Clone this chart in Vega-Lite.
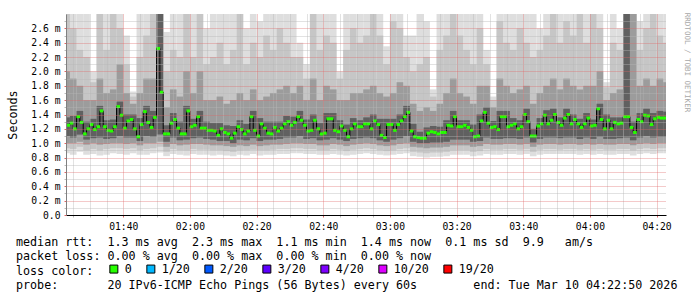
{
"$schema": "https://vega.github.io/schema/vega-lite/v6.json",
"autosize": {"type": "none"},
"width": 600,
"height": 201,
"padding": {"left": 66, "top": 14, "right": 31, "bottom": 82},
"background": "white",
"config": {"view": {"stroke": null}, "font": "DejaVu Sans Mono"},
"title": {
 "text": [
  "median\u00a0rtt:\u00a0\u00a01.3\u00a0ms\u00a0avg\u00a0\u00a02.3\u00a0ms\u00a0max\u00a0\u00a01.1\u00a0ms\u00a0min\u00a0\u00a01.4\u00a0ms\u00a0now\u00a0\u00a00.1\u00a0ms\u00a0sd\u00a0\u00a09.9\u00a0\u00a0\u00a0am/s",
  "packet\u00a0loss:\u00a00.00\u00a0%\u00a0avg\u00a0\u00a00.00\u00a0%\u00a0max\u00a0\u00a00.00\u00a0%\u00a0min\u00a0\u00a00.00\u00a0%\u00a0now",
  "loss\u00a0color:",
  "probe:\u00a0\u00a0\u00a0\u00a0\u00a0\u00a0\u00a020\u00a0IPv6-ICMP\u00a0Echo\u00a0Pings\u00a0(56\u00a0Bytes)\u00a0every\u00a060s\u00a0\u00a0\u00a0\u00a0\u00a0\u00a0\u00a0\u00a0end:\u00a0Tue\u00a0Mar\u00a010\u00a004:22:50\u00a02026"
 ],
 "orient": "bottom", "anchor": "start", "frame": "group", "dx": -50, "offset": -39,
 "font": "DejaVu Sans Mono", "fontSize": 11.7, "fontWeight": "normal", "color": "#000",
 "lineHeight": 14.3, "baseline": "top"
},
"datasets": {
 "smoke": [
  {"t":"2026-03-10T01:22","t2":"2026-03-10T01:24","lo0":0.86,"lo1":0.93,"lo2":1.0,"lo3":1.1,"hi3":1.36,"hi2":2.0,"hi1":3,"hi0":3},
  {"t":"2026-03-10T01:24","t2":"2026-03-10T01:26","lo0":0.84,"lo1":0.92,"lo2":1.0,"lo3":1.08,"hi3":1.38,"hi2":1.9,"hi1":2.6,"hi0":3},
  {"t":"2026-03-10T01:26","t2":"2026-03-10T01:28","lo0":0.88,"lo1":0.95,"lo2":1.02,"lo3":1.12,"hi3":1.45,"hi2":1.8,"hi1":2.3,"hi0":3},
  {"t":"2026-03-10T01:28","t2":"2026-03-10T01:30","lo0":0.84,"lo1":0.9,"lo2":0.98,"lo3":1.05,"hi3":1.3,"hi2":1.6,"hi1":2.2,"hi0":3},
  {"t":"2026-03-10T01:30","t2":"2026-03-10T01:32","lo0":0.85,"lo1":0.92,"lo2":1.0,"lo3":1.07,"hi3":1.34,"hi2":1.6,"hi1":1.85,"hi0":2.0},
  {"t":"2026-03-10T01:32","t2":"2026-03-10T01:34","lo0":0.83,"lo1":0.9,"lo2":0.98,"lo3":1.08,"hi3":1.52,"hi2":1.9,"hi1":2.8,"hi0":3},
  {"t":"2026-03-10T01:34","t2":"2026-03-10T01:36","lo0":0.84,"lo1":0.92,"lo2":0.99,"lo3":1.06,"hi3":1.32,"hi2":1.7,"hi1":2.3,"hi0":3},
  {"t":"2026-03-10T01:36","t2":"2026-03-10T01:38","lo0":0.86,"lo1":0.93,"lo2":1.0,"lo3":1.07,"hi3":1.33,"hi2":1.75,"hi1":2.9,"hi0":3},
  {"t":"2026-03-10T01:38","t2":"2026-03-10T01:40","lo0":0.85,"lo1":0.93,"lo2":1.0,"lo3":1.1,"hi3":1.58,"hi2":2.1,"hi1":2.6,"hi0":3},
  {"t":"2026-03-10T01:40","t2":"2026-03-10T01:42","lo0":0.84,"lo1":0.92,"lo2":0.99,"lo3":1.08,"hi3":1.4,"hi2":1.7,"hi1":2.1,"hi0":2.5},
  {"t":"2026-03-10T01:42","t2":"2026-03-10T01:44","lo0":0.86,"lo1":0.93,"lo2":1.0,"lo3":1.08,"hi3":1.4,"hi2":1.55,"hi1":1.65,"hi0":1.72},
  {"t":"2026-03-10T01:44","t2":"2026-03-10T01:46","lo0":0.84,"lo1":0.9,"lo2":0.97,"lo3":1.03,"hi3":1.35,"hi2":1.7,"hi1":2.2,"hi0":3},
  {"t":"2026-03-10T01:46","t2":"2026-03-10T01:48","lo0":0.84,"lo1":0.92,"lo2":1.0,"lo3":1.1,"hi3":1.52,"hi2":1.9,"hi1":2.5,"hi0":3},
  {"t":"2026-03-10T01:48","t2":"2026-03-10T01:50","lo0":0.86,"lo1":0.93,"lo2":1.0,"lo3":1.09,"hi3":1.45,"hi2":1.9,"hi1":3,"hi0":3},
  {"t":"2026-03-10T01:50","t2":"2026-03-10T01:52","lo0":0.87,"lo1":0.95,"lo2":1.02,"lo3":1.12,"hi3":3,"hi2":3,"hi1":3,"hi0":3},
  {"t":"2026-03-10T01:52","t2":"2026-03-10T01:54","lo0":0.82,"lo1":0.88,"lo2":0.95,"lo3":1.02,"hi3":1.25,"hi2":1.5,"hi1":2.0,"hi0":2.55},
  {"t":"2026-03-10T01:54","t2":"2026-03-10T01:56","lo0":0.85,"lo1":0.92,"lo2":0.99,"lo3":1.08,"hi3":1.42,"hi2":1.75,"hi1":2.3,"hi0":3},
  {"t":"2026-03-10T01:56","t2":"2026-03-10T01:58","lo0":0.84,"lo1":0.9,"lo2":0.97,"lo3":1.04,"hi3":1.3,"hi2":1.65,"hi1":2.2,"hi0":3},
  {"t":"2026-03-10T01:58","t2":"2026-03-10T02:00","lo0":0.83,"lo1":0.9,"lo2":0.98,"lo3":1.05,"hi3":1.52,"hi2":2.0,"hi1":2.9,"hi0":3},
  {"t":"2026-03-10T02:00","t2":"2026-03-10T02:02","lo0":0.85,"lo1":0.92,"lo2":0.99,"lo3":1.07,"hi3":1.34,"hi2":1.7,"hi1":2.2,"hi0":3},
  {"t":"2026-03-10T02:02","t2":"2026-03-10T02:04","lo0":0.84,"lo1":0.91,"lo2":0.99,"lo3":1.08,"hi3":1.45,"hi2":2.0,"hi1":3,"hi0":3},
  {"t":"2026-03-10T02:04","t2":"2026-03-10T02:06","lo0":0.84,"lo1":0.91,"lo2":0.98,"lo3":1.06,"hi3":1.3,"hi2":1.6,"hi1":2.1,"hi0":2.6},
  {"t":"2026-03-10T02:06","t2":"2026-03-10T02:08","lo0":0.83,"lo1":0.9,"lo2":0.97,"lo3":1.05,"hi3":1.28,"hi2":1.6,"hi1":2.2,"hi0":3},
  {"t":"2026-03-10T02:08","t2":"2026-03-10T02:10","lo0":0.84,"lo1":0.9,"lo2":0.97,"lo3":1.03,"hi3":1.28,"hi2":1.65,"hi1":2.4,"hi0":3},
  {"t":"2026-03-10T02:10","t2":"2026-03-10T02:12","lo0":0.83,"lo1":0.89,"lo2":0.96,"lo3":1.03,"hi3":1.25,"hi2":1.55,"hi1":2.1,"hi0":3},
  {"t":"2026-03-10T02:12","t2":"2026-03-10T02:14","lo0":0.82,"lo1":0.88,"lo2":0.95,"lo3":1.0,"hi3":1.24,"hi2":1.6,"hi1":2.3,"hi0":3},
  {"t":"2026-03-10T02:14","t2":"2026-03-10T02:16","lo0":0.84,"lo1":0.9,"lo2":0.97,"lo3":1.05,"hi3":1.32,"hi2":1.7,"hi1":2.9,"hi0":3},
  {"t":"2026-03-10T02:16","t2":"2026-03-10T02:18","lo0":0.83,"lo1":0.9,"lo2":0.96,"lo3":1.04,"hi3":1.27,"hi2":1.6,"hi1":2.1,"hi0":2.6},
  {"t":"2026-03-10T02:18","t2":"2026-03-10T02:20","lo0":0.85,"lo1":0.91,"lo2":0.98,"lo3":1.07,"hi3":1.45,"hi2":1.75,"hi1":2.4,"hi0":3},
  {"t":"2026-03-10T02:20","t2":"2026-03-10T02:22","lo0":0.83,"lo1":0.9,"lo2":0.96,"lo3":1.03,"hi3":1.35,"hi2":1.6,"hi1":2.2,"hi0":2.7},
  {"t":"2026-03-10T02:22","t2":"2026-03-10T02:24","lo0":0.84,"lo1":0.9,"lo2":0.97,"lo3":1.05,"hi3":1.3,"hi2":1.65,"hi1":2.5,"hi0":3},
  {"t":"2026-03-10T02:24","t2":"2026-03-10T02:26","lo0":0.84,"lo1":0.91,"lo2":0.98,"lo3":1.05,"hi3":1.3,"hi2":1.7,"hi1":2.3,"hi0":3},
  {"t":"2026-03-10T02:26","t2":"2026-03-10T02:28","lo0":0.85,"lo1":0.92,"lo2":0.98,"lo3":1.06,"hi3":1.3,"hi2":1.75,"hi1":2.6,"hi0":3},
  {"t":"2026-03-10T02:28","t2":"2026-03-10T02:30","lo0":0.85,"lo1":0.92,"lo2":0.99,"lo3":1.08,"hi3":1.38,"hi2":1.8,"hi1":2.4,"hi0":3},
  {"t":"2026-03-10T02:30","t2":"2026-03-10T02:32","lo0":0.86,"lo1":0.93,"lo2":1.0,"lo3":1.08,"hi3":1.37,"hi2":1.7,"hi1":2.2,"hi0":3},
  {"t":"2026-03-10T02:32","t2":"2026-03-10T02:34","lo0":0.86,"lo1":0.93,"lo2":1.0,"lo3":1.1,"hi3":1.45,"hi2":1.8,"hi1":2.2,"hi0":2.4},
  {"t":"2026-03-10T02:34","t2":"2026-03-10T02:36","lo0":0.85,"lo1":0.92,"lo2":0.99,"lo3":1.06,"hi3":1.33,"hi2":1.6,"hi1":1.9,"hi0":2.1},
  {"t":"2026-03-10T02:36","t2":"2026-03-10T02:38","lo0":0.85,"lo1":0.92,"lo2":0.99,"lo3":1.07,"hi3":1.4,"hi2":1.9,"hi1":2.8,"hi0":3},
  {"t":"2026-03-10T02:38","t2":"2026-03-10T02:40","lo0":0.84,"lo1":0.9,"lo2":0.97,"lo3":1.04,"hi3":1.28,"hi2":1.6,"hi1":2.3,"hi0":3},
  {"t":"2026-03-10T02:40","t2":"2026-03-10T02:42","lo0":0.84,"lo1":0.9,"lo2":0.97,"lo3":1.05,"hi3":1.42,"hi2":1.8,"hi1":2.5,"hi0":3},
  {"t":"2026-03-10T02:42","t2":"2026-03-10T02:44","lo0":0.85,"lo1":0.92,"lo2":0.99,"lo3":1.07,"hi3":1.42,"hi2":1.75,"hi1":2.4,"hi0":3},
  {"t":"2026-03-10T02:44","t2":"2026-03-10T02:46","lo0":0.84,"lo1":0.91,"lo2":0.98,"lo3":1.05,"hi3":1.32,"hi2":1.6,"hi1":1.9,"hi0":2.0},
  {"t":"2026-03-10T02:46","t2":"2026-03-10T02:48","lo0":0.83,"lo1":0.89,"lo2":0.96,"lo3":1.03,"hi3":1.26,"hi2":1.6,"hi1":2.3,"hi0":3},
  {"t":"2026-03-10T02:48","t2":"2026-03-10T02:50","lo0":0.84,"lo1":0.91,"lo2":0.98,"lo3":1.06,"hi3":1.35,"hi2":1.7,"hi1":2.6,"hi0":3},
  {"t":"2026-03-10T02:50","t2":"2026-03-10T02:52","lo0":0.85,"lo1":0.92,"lo2":0.99,"lo3":1.07,"hi3":1.32,"hi2":1.7,"hi1":2.4,"hi0":3},
  {"t":"2026-03-10T02:52","t2":"2026-03-10T02:54","lo0":0.86,"lo1":0.93,"lo2":1.0,"lo3":1.08,"hi3":1.36,"hi2":1.75,"hi1":2.5,"hi0":3},
  {"t":"2026-03-10T02:54","t2":"2026-03-10T02:56","lo0":0.85,"lo1":0.92,"lo2":0.99,"lo3":1.07,"hi3":1.4,"hi2":1.8,"hi1":2.9,"hi0":3},
  {"t":"2026-03-10T02:56","t2":"2026-03-10T02:58","lo0":0.84,"lo1":0.9,"lo2":0.97,"lo3":1.04,"hi3":1.34,"hi2":1.7,"hi1":2.5,"hi0":3},
  {"t":"2026-03-10T02:58","t2":"2026-03-10T03:00","lo0":0.83,"lo1":0.89,"lo2":0.96,"lo3":1.02,"hi3":1.34,"hi2":1.65,"hi1":2.1,"hi0":2.35},
  {"t":"2026-03-10T03:00","t2":"2026-03-10T03:02","lo0":0.84,"lo1":0.9,"lo2":0.97,"lo3":1.05,"hi3":1.34,"hi2":1.7,"hi1":2.7,"hi0":3},
  {"t":"2026-03-10T03:02","t2":"2026-03-10T03:04","lo0":0.85,"lo1":0.92,"lo2":0.99,"lo3":1.07,"hi3":1.4,"hi2":1.85,"hi1":2.6,"hi0":3},
  {"t":"2026-03-10T03:04","t2":"2026-03-10T03:06","lo0":0.86,"lo1":0.93,"lo2":1.0,"lo3":1.1,"hi3":1.52,"hi2":1.8,"hi1":2.2,"hi0":2.5},
  {"t":"2026-03-10T03:06","t2":"2026-03-10T03:08","lo0":0.82,"lo1":0.88,"lo2":0.95,"lo3":1.02,"hi3":1.27,"hi2":1.55,"hi1":2.0,"hi0":2.5},
  {"t":"2026-03-10T03:08","t2":"2026-03-10T03:10","lo0":0.81,"lo1":0.87,"lo2":0.94,"lo3":1.0,"hi3":1.16,"hi2":1.45,"hi1":2.1,"hi0":3},
  {"t":"2026-03-10T03:10","t2":"2026-03-10T03:12","lo0":0.8,"lo1":0.86,"lo2":0.93,"lo3":1.0,"hi3":1.22,"hi2":1.5,"hi1":2.2,"hi0":2.7},
  {"t":"2026-03-10T03:12","t2":"2026-03-10T03:14","lo0":0.81,"lo1":0.87,"lo2":0.94,"lo3":1.01,"hi3":1.24,"hi2":1.45,"hi1":1.65,"hi0":1.75},
  {"t":"2026-03-10T03:14","t2":"2026-03-10T03:16","lo0":0.81,"lo1":0.87,"lo2":0.94,"lo3":1.01,"hi3":1.23,"hi2":1.55,"hi1":2.3,"hi0":3},
  {"t":"2026-03-10T03:16","t2":"2026-03-10T03:18","lo0":0.82,"lo1":0.88,"lo2":0.95,"lo3":1.02,"hi3":1.32,"hi2":1.7,"hi1":2.5,"hi0":3},
  {"t":"2026-03-10T03:18","t2":"2026-03-10T03:20","lo0":0.84,"lo1":0.9,"lo2":0.97,"lo3":1.05,"hi3":1.45,"hi2":1.9,"hi1":3,"hi0":3},
  {"t":"2026-03-10T03:20","t2":"2026-03-10T03:22","lo0":0.84,"lo1":0.9,"lo2":0.97,"lo3":1.05,"hi3":1.32,"hi2":1.7,"hi1":2.5,"hi0":3},
  {"t":"2026-03-10T03:22","t2":"2026-03-10T03:24","lo0":0.84,"lo1":0.9,"lo2":0.97,"lo3":1.05,"hi3":1.32,"hi2":1.65,"hi1":2.3,"hi0":3},
  {"t":"2026-03-10T03:24","t2":"2026-03-10T03:26","lo0":0.82,"lo1":0.88,"lo2":0.95,"lo3":1.02,"hi3":1.26,"hi2":1.55,"hi1":2.1,"hi0":3},
  {"t":"2026-03-10T03:26","t2":"2026-03-10T03:28","lo0":0.83,"lo1":0.89,"lo2":0.96,"lo3":1.03,"hi3":1.4,"hi2":1.8,"hi1":2.6,"hi0":3},
  {"t":"2026-03-10T03:28","t2":"2026-03-10T03:30","lo0":0.85,"lo1":0.92,"lo2":0.99,"lo3":1.08,"hi3":1.5,"hi2":1.8,"hi1":2.1,"hi0":2.3},
  {"t":"2026-03-10T03:30","t2":"2026-03-10T03:32","lo0":0.84,"lo1":0.91,"lo2":0.98,"lo3":1.06,"hi3":1.31,"hi2":1.5,"hi1":1.6,"hi0":1.65},
  {"t":"2026-03-10T03:32","t2":"2026-03-10T03:34","lo0":0.84,"lo1":0.91,"lo2":0.98,"lo3":1.06,"hi3":1.45,"hi2":1.9,"hi1":2.7,"hi0":3},
  {"t":"2026-03-10T03:34","t2":"2026-03-10T03:36","lo0":0.85,"lo1":0.92,"lo2":0.99,"lo3":1.07,"hi3":1.45,"hi2":1.8,"hi1":2.4,"hi0":3},
  {"t":"2026-03-10T03:36","t2":"2026-03-10T03:38","lo0":0.85,"lo1":0.92,"lo2":0.99,"lo3":1.07,"hi3":1.35,"hi2":1.7,"hi1":2.3,"hi0":3},
  {"t":"2026-03-10T03:38","t2":"2026-03-10T03:40","lo0":0.84,"lo1":0.91,"lo2":0.98,"lo3":1.06,"hi3":1.32,"hi2":1.75,"hi1":2.6,"hi0":3},
  {"t":"2026-03-10T03:40","t2":"2026-03-10T03:42","lo0":0.85,"lo1":0.92,"lo2":0.99,"lo3":1.08,"hi3":1.48,"hi2":1.8,"hi1":2.4,"hi0":3},
  {"t":"2026-03-10T03:42","t2":"2026-03-10T03:44","lo0":0.82,"lo1":0.88,"lo2":0.95,"lo3":1.01,"hi3":1.2,"hi2":1.55,"hi1":2.2,"hi0":3},
  {"t":"2026-03-10T03:44","t2":"2026-03-10T03:46","lo0":0.84,"lo1":0.91,"lo2":0.98,"lo3":1.06,"hi3":1.35,"hi2":1.7,"hi1":2.3,"hi0":2.6},
  {"t":"2026-03-10T03:46","t2":"2026-03-10T03:48","lo0":0.85,"lo1":0.92,"lo2":0.99,"lo3":1.08,"hi3":1.46,"hi2":1.8,"hi1":2.5,"hi0":3},
  {"t":"2026-03-10T03:48","t2":"2026-03-10T03:50","lo0":0.85,"lo1":0.92,"lo2":0.99,"lo3":1.08,"hi3":1.48,"hi2":1.9,"hi1":2.8,"hi0":3},
  {"t":"2026-03-10T03:50","t2":"2026-03-10T03:52","lo0":0.85,"lo1":0.91,"lo2":0.98,"lo3":1.07,"hi3":1.36,"hi2":1.75,"hi1":2.4,"hi0":3},
  {"t":"2026-03-10T03:52","t2":"2026-03-10T03:54","lo0":0.85,"lo1":0.92,"lo2":0.99,"lo3":1.08,"hi3":1.48,"hi2":1.9,"hi1":2.7,"hi0":3},
  {"t":"2026-03-10T03:54","t2":"2026-03-10T03:56","lo0":0.85,"lo1":0.92,"lo2":0.99,"lo3":1.08,"hi3":1.4,"hi2":1.8,"hi1":2.5,"hi0":3},
  {"t":"2026-03-10T03:56","t2":"2026-03-10T03:58","lo0":0.84,"lo1":0.91,"lo2":0.98,"lo3":1.06,"hi3":1.34,"hi2":1.75,"hi1":2.9,"hi0":3},
  {"t":"2026-03-10T03:58","t2":"2026-03-10T04:00","lo0":0.85,"lo1":0.92,"lo2":0.99,"lo3":1.08,"hi3":1.42,"hi2":1.8,"hi1":2.4,"hi0":3},
  {"t":"2026-03-10T04:00","t2":"2026-03-10T04:02","lo0":0.84,"lo1":0.91,"lo2":0.98,"lo3":1.06,"hi3":1.33,"hi2":1.8,"hi1":3,"hi0":3},
  {"t":"2026-03-10T04:02","t2":"2026-03-10T04:04","lo0":0.85,"lo1":0.92,"lo2":0.99,"lo3":1.09,"hi3":1.55,"hi2":2.0,"hi1":2.6,"hi0":3},
  {"t":"2026-03-10T04:04","t2":"2026-03-10T04:06","lo0":0.84,"lo1":0.91,"lo2":0.98,"lo3":1.06,"hi3":1.4,"hi2":1.6,"hi1":1.78,"hi0":1.85},
  {"t":"2026-03-10T04:06","t2":"2026-03-10T04:08","lo0":0.84,"lo1":0.91,"lo2":0.98,"lo3":1.06,"hi3":1.36,"hi2":1.7,"hi1":2.4,"hi0":3},
  {"t":"2026-03-10T04:08","t2":"2026-03-10T04:10","lo0":0.85,"lo1":0.92,"lo2":0.99,"lo3":1.07,"hi3":1.36,"hi2":1.75,"hi1":2.3,"hi0":2.6},
  {"t":"2026-03-10T04:10","t2":"2026-03-10T04:12","lo0":0.85,"lo1":0.92,"lo2":0.99,"lo3":1.08,"hi3":3,"hi2":3,"hi1":3,"hi0":3},
  {"t":"2026-03-10T04:12","t2":"2026-03-10T04:14","lo0":0.83,"lo1":0.9,"lo2":0.97,"lo3":1.04,"hi3":1.3,"hi2":3,"hi1":3,"hi0":3},
  {"t":"2026-03-10T04:14","t2":"2026-03-10T04:16","lo0":0.85,"lo1":0.92,"lo2":0.99,"lo3":1.08,"hi3":1.42,"hi2":1.8,"hi1":2.3,"hi0":2.7},
  {"t":"2026-03-10T04:16","t2":"2026-03-10T04:18","lo0":0.86,"lo1":0.93,"lo2":1.0,"lo3":1.1,"hi3":1.48,"hi2":1.9,"hi1":2.6,"hi0":3},
  {"t":"2026-03-10T04:18","t2":"2026-03-10T04:20","lo0":0.85,"lo1":0.92,"lo2":0.99,"lo3":1.08,"hi3":1.42,"hi2":1.8,"hi1":2.8,"hi0":3},
  {"t":"2026-03-10T04:20","t2":"2026-03-10T04:22","lo0":0.86,"lo1":0.93,"lo2":1.0,"lo3":1.09,"hi3":1.45,"hi2":1.9,"hi1":2.5,"hi0":3},
  {"t":"2026-03-10T04:22","t2":"2026-03-10T04:23","lo0":0.86,"lo1":0.93,"lo2":1.0,"lo3":1.09,"hi3":1.44,"hi2":1.85,"hi1":2.4,"hi0":3}
 ],
 "med": [
  {"t":"2026-03-10T01:23","m":1.25,"loss":"0"},{"t":"2026-03-10T01:24","m":1.28,"loss":"0"},{"t":"2026-03-10T01:25","m":1.2,"loss":"0"},{"t":"2026-03-10T01:26","m":1.37,"loss":"0"},{"t":"2026-03-10T01:27","m":1.29,"loss":"0"},
  {"t":"2026-03-10T01:28","m":1.13,"loss":"0"},{"t":"2026-03-10T01:29","m":1.2,"loss":"0"},{"t":"2026-03-10T01:30","m":1.26,"loss":"0"},{"t":"2026-03-10T01:31","m":1.19,"loss":"0"},{"t":"2026-03-10T01:32","m":1.23,"loss":"0"},
  {"t":"2026-03-10T01:33","m":1.45,"loss":"0"},{"t":"2026-03-10T01:34","m":1.23,"loss":"0"},{"t":"2026-03-10T01:35","m":1.18,"loss":"0"},{"t":"2026-03-10T01:36","m":1.17,"loss":"0"},{"t":"2026-03-10T01:37","m":1.23,"loss":"0"},
  {"t":"2026-03-10T01:38","m":1.51,"loss":"0"},{"t":"2026-03-10T01:39","m":1.39,"loss":"0"},{"t":"2026-03-10T01:40","m":1.21,"loss":"0"},{"t":"2026-03-10T01:41","m":1.31,"loss":"0"},{"t":"2026-03-10T01:42","m":1.33,"loss":"0"},
  {"t":"2026-03-10T01:43","m":1.2,"loss":"0"},{"t":"2026-03-10T01:44","m":1.09,"loss":"0"},{"t":"2026-03-10T01:45","m":1.26,"loss":"0"},{"t":"2026-03-10T01:46","m":1.44,"loss":"0"},{"t":"2026-03-10T01:47","m":1.29,"loss":"0"},
  {"t":"2026-03-10T01:48","m":1.22,"loss":"0"},{"t":"2026-03-10T01:49","m":1.36,"loss":"0"},{"t":"2026-03-10T01:50","m":2.32,"loss":"0"},{"t":"2026-03-10T01:51","m":1.71,"loss":"0"},{"t":"2026-03-10T01:52","m":1.13,"loss":"0"},
  {"t":"2026-03-10T01:53","m":1.13,"loss":"0"},{"t":"2026-03-10T01:54","m":1.28,"loss":"0"},{"t":"2026-03-10T01:55","m":1.33,"loss":"0"},{"t":"2026-03-10T01:56","m":1.21,"loss":"0"},{"t":"2026-03-10T01:57","m":1.13,"loss":"0"},
  {"t":"2026-03-10T01:58","m":1.13,"loss":"0"},{"t":"2026-03-10T01:59","m":1.45,"loss":"0"},{"t":"2026-03-10T02:00","m":1.23,"loss":"0"},{"t":"2026-03-10T02:01","m":1.25,"loss":"0"},{"t":"2026-03-10T02:02","m":1.37,"loss":"0"},
  {"t":"2026-03-10T02:03","m":1.21,"loss":"0"},{"t":"2026-03-10T02:04","m":1.21,"loss":"0"},{"t":"2026-03-10T02:05","m":1.18,"loss":"0"},{"t":"2026-03-10T02:06","m":1.18,"loss":"0"},{"t":"2026-03-10T02:07","m":1.17,"loss":"0"},
  {"t":"2026-03-10T02:08","m":1.11,"loss":"0"},{"t":"2026-03-10T02:09","m":1.2,"loss":"0"},{"t":"2026-03-10T02:10","m":1.15,"loss":"0"},{"t":"2026-03-10T02:11","m":1.13,"loss":"0"},{"t":"2026-03-10T02:12","m":1.07,"loss":"0"},
  {"t":"2026-03-10T02:13","m":1.14,"loss":"0"},{"t":"2026-03-10T02:14","m":1.23,"loss":"0"},{"t":"2026-03-10T02:15","m":1.19,"loss":"0"},{"t":"2026-03-10T02:16","m":1.13,"loss":"0"},{"t":"2026-03-10T02:17","m":1.17,"loss":"0"},
  {"t":"2026-03-10T02:18","m":1.37,"loss":"0"},{"t":"2026-03-10T02:19","m":1.18,"loss":"0"},{"t":"2026-03-10T02:20","m":1.1,"loss":"0"},{"t":"2026-03-10T02:21","m":1.27,"loss":"0"},{"t":"2026-03-10T02:22","m":1.21,"loss":"0"},
  {"t":"2026-03-10T02:23","m":1.14,"loss":"0"},{"t":"2026-03-10T02:24","m":1.13,"loss":"0"},{"t":"2026-03-10T02:25","m":1.22,"loss":"0"},{"t":"2026-03-10T02:26","m":1.17,"loss":"0"},{"t":"2026-03-10T02:27","m":1.21,"loss":"0"},
  {"t":"2026-03-10T02:28","m":1.27,"loss":"0"},{"t":"2026-03-10T02:29","m":1.3,"loss":"0"},{"t":"2026-03-10T02:30","m":1.25,"loss":"0"},{"t":"2026-03-10T02:31","m":1.29,"loss":"0"},{"t":"2026-03-10T02:32","m":1.37,"loss":"0"},
  {"t":"2026-03-10T02:33","m":1.32,"loss":"0"},{"t":"2026-03-10T02:34","m":1.25,"loss":"0"},{"t":"2026-03-10T02:35","m":1.17,"loss":"0"},{"t":"2026-03-10T02:36","m":1.18,"loss":"0"},{"t":"2026-03-10T02:37","m":1.32,"loss":"0"},
  {"t":"2026-03-10T02:38","m":1.2,"loss":"0"},{"t":"2026-03-10T02:39","m":1.13,"loss":"0"},{"t":"2026-03-10T02:40","m":1.14,"loss":"0"},{"t":"2026-03-10T02:41","m":1.34,"loss":"0"},{"t":"2026-03-10T02:42","m":1.34,"loss":"0"},
  {"t":"2026-03-10T02:43","m":1.18,"loss":"0"},{"t":"2026-03-10T02:44","m":1.16,"loss":"0"},{"t":"2026-03-10T02:45","m":1.24,"loss":"0"},{"t":"2026-03-10T02:46","m":1.18,"loss":"0"},{"t":"2026-03-10T02:47","m":1.09,"loss":"0"},
  {"t":"2026-03-10T02:48","m":1.2,"loss":"0"},{"t":"2026-03-10T02:49","m":1.27,"loss":"0"},{"t":"2026-03-10T02:50","m":1.23,"loss":"0"},{"t":"2026-03-10T02:51","m":1.23,"loss":"0"},{"t":"2026-03-10T02:52","m":1.27,"loss":"0"},
  {"t":"2026-03-10T02:53","m":1.27,"loss":"0"},{"t":"2026-03-10T02:54","m":1.2,"loss":"0"},{"t":"2026-03-10T02:55","m":1.31,"loss":"0"},{"t":"2026-03-10T02:56","m":1.26,"loss":"0"},{"t":"2026-03-10T02:57","m":1.11,"loss":"0"},
  {"t":"2026-03-10T02:58","m":1.08,"loss":"0"},{"t":"2026-03-10T02:59","m":1.26,"loss":"0"},{"t":"2026-03-10T03:00","m":1.26,"loss":"0"},{"t":"2026-03-10T03:01","m":1.18,"loss":"0"},{"t":"2026-03-10T03:02","m":1.26,"loss":"0"},
  {"t":"2026-03-10T03:03","m":1.31,"loss":"0"},{"t":"2026-03-10T03:04","m":1.37,"loss":"0"},{"t":"2026-03-10T03:05","m":1.43,"loss":"0"},{"t":"2026-03-10T03:06","m":1.17,"loss":"0"},{"t":"2026-03-10T03:07","m":1.09,"loss":"0"},
  {"t":"2026-03-10T03:08","m":1.08,"loss":"0"},{"t":"2026-03-10T03:09","m":1.07,"loss":"0"},{"t":"2026-03-10T03:10","m":1.07,"loss":"0"},{"t":"2026-03-10T03:11","m":1.14,"loss":"0"},{"t":"2026-03-10T03:12","m":1.16,"loss":"0"},
  {"t":"2026-03-10T03:13","m":1.15,"loss":"0"},{"t":"2026-03-10T03:14","m":1.13,"loss":"0"},{"t":"2026-03-10T03:15","m":1.15,"loss":"0"},{"t":"2026-03-10T03:16","m":1.15,"loss":"0"},{"t":"2026-03-10T03:17","m":1.25,"loss":"0"},
  {"t":"2026-03-10T03:18","m":1.24,"loss":"0"},{"t":"2026-03-10T03:19","m":1.37,"loss":"0"},{"t":"2026-03-10T03:20","m":1.23,"loss":"0"},{"t":"2026-03-10T03:21","m":1.23,"loss":"0"},{"t":"2026-03-10T03:22","m":1.25,"loss":"0"},
  {"t":"2026-03-10T03:23","m":1.22,"loss":"0"},{"t":"2026-03-10T03:24","m":1.18,"loss":"0"},{"t":"2026-03-10T03:25","m":1.09,"loss":"0"},{"t":"2026-03-10T03:26","m":1.1,"loss":"0"},{"t":"2026-03-10T03:27","m":1.31,"loss":"0"},
  {"t":"2026-03-10T03:28","m":1.43,"loss":"0"},{"t":"2026-03-10T03:29","m":1.28,"loss":"0"},{"t":"2026-03-10T03:30","m":1.22,"loss":"0"},{"t":"2026-03-10T03:31","m":1.23,"loss":"0"},{"t":"2026-03-10T03:32","m":1.19,"loss":"0"},
  {"t":"2026-03-10T03:33","m":1.37,"loss":"0"},{"t":"2026-03-10T03:34","m":1.37,"loss":"0"},{"t":"2026-03-10T03:35","m":1.23,"loss":"0"},{"t":"2026-03-10T03:36","m":1.25,"loss":"0"},{"t":"2026-03-10T03:37","m":1.27,"loss":"0"},
  {"t":"2026-03-10T03:38","m":1.2,"loss":"0"},{"t":"2026-03-10T03:39","m":1.23,"loss":"0"},{"t":"2026-03-10T03:40","m":1.4,"loss":"0"},{"t":"2026-03-10T03:41","m":1.3,"loss":"0"},{"t":"2026-03-10T03:42","m":1.1,"loss":"0"},
  {"t":"2026-03-10T03:43","m":1.1,"loss":"0"},{"t":"2026-03-10T03:44","m":1.24,"loss":"0"},{"t":"2026-03-10T03:45","m":1.27,"loss":"0"},{"t":"2026-03-10T03:46","m":1.39,"loss":"0"},{"t":"2026-03-10T03:47","m":1.27,"loss":"0"},
  {"t":"2026-03-10T03:48","m":1.32,"loss":"0"},{"t":"2026-03-10T03:49","m":1.4,"loss":"0"},{"t":"2026-03-10T03:50","m":1.29,"loss":"0"},{"t":"2026-03-10T03:51","m":1.25,"loss":"0"},{"t":"2026-03-10T03:52","m":1.35,"loss":"0"},
  {"t":"2026-03-10T03:53","m":1.4,"loss":"0"},{"t":"2026-03-10T03:54","m":1.27,"loss":"0"},{"t":"2026-03-10T03:55","m":1.33,"loss":"0"},{"t":"2026-03-10T03:56","m":1.27,"loss":"0"},{"t":"2026-03-10T03:57","m":1.22,"loss":"0"},
  {"t":"2026-03-10T03:58","m":1.27,"loss":"0"},{"t":"2026-03-10T03:59","m":1.35,"loss":"0"},{"t":"2026-03-10T04:00","m":1.24,"loss":"0"},{"t":"2026-03-10T04:01","m":1.25,"loss":"0"},{"t":"2026-03-10T04:02","m":1.48,"loss":"0"},
  {"t":"2026-03-10T04:03","m":1.33,"loss":"0"},{"t":"2026-03-10T04:04","m":1.2,"loss":"0"},{"t":"2026-03-10T04:05","m":1.32,"loss":"0"},{"t":"2026-03-10T04:06","m":1.2,"loss":"0"},{"t":"2026-03-10T04:07","m":1.29,"loss":"0"},
  {"t":"2026-03-10T04:08","m":1.27,"loss":"0"},{"t":"2026-03-10T04:09","m":1.28,"loss":"0"},{"t":"2026-03-10T04:10","m":1.37,"loss":"0"},{"t":"2026-03-10T04:11","m":1.37,"loss":"0"},{"t":"2026-03-10T04:12","m":1.22,"loss":"0"},
  {"t":"2026-03-10T04:13","m":1.15,"loss":"0"},{"t":"2026-03-10T04:14","m":1.33,"loss":"0"},{"t":"2026-03-10T04:15","m":1.3,"loss":"0"},{"t":"2026-03-10T04:16","m":1.39,"loss":"0"},{"t":"2026-03-10T04:17","m":1.38,"loss":"0"},
  {"t":"2026-03-10T04:18","m":1.26,"loss":"0"},{"t":"2026-03-10T04:19","m":1.34,"loss":"0"},{"t":"2026-03-10T04:20","m":1.36,"loss":"0"},{"t":"2026-03-10T04:21","m":1.35,"loss":"0"},{"t":"2026-03-10T04:22","m":1.35,"loss":"0"}
 ]
},
"resolve": {"axis": {"x": "independent", "y": "independent"}},
"layer": [
 {
  "data": {"name": "smoke"},
  "mark": {"type": "rect", "clip": true, "color": "#dedede"},
  "encoding": {
   "x": {"field": "t", "type": "temporal",
     "scale": {"domain": [{"year": 2026, "month": 3, "date": 10, "hours": 1, "minutes": 22, "seconds": 50}, {"year": 2026, "month": 3, "date": 10, "hours": 4, "minutes": 22, "seconds": 50}]},
     "axis": {"orient": "bottom", "values": [
       {"year": 2026, "month": 3, "date": 10, "hours": 1, "minutes": 25}, {"year": 2026, "month": 3, "date": 10, "hours": 1, "minutes": 30}, {"year": 2026, "month": 3, "date": 10, "hours": 1, "minutes": 35},
       {"year": 2026, "month": 3, "date": 10, "hours": 1, "minutes": 45}, {"year": 2026, "month": 3, "date": 10, "hours": 1, "minutes": 50}, {"year": 2026, "month": 3, "date": 10, "hours": 1, "minutes": 55},
       {"year": 2026, "month": 3, "date": 10, "hours": 2, "minutes": 5}, {"year": 2026, "month": 3, "date": 10, "hours": 2, "minutes": 10}, {"year": 2026, "month": 3, "date": 10, "hours": 2, "minutes": 15},
       {"year": 2026, "month": 3, "date": 10, "hours": 2, "minutes": 25}, {"year": 2026, "month": 3, "date": 10, "hours": 2, "minutes": 30}, {"year": 2026, "month": 3, "date": 10, "hours": 2, "minutes": 35},
       {"year": 2026, "month": 3, "date": 10, "hours": 2, "minutes": 45}, {"year": 2026, "month": 3, "date": 10, "hours": 2, "minutes": 50}, {"year": 2026, "month": 3, "date": 10, "hours": 2, "minutes": 55},
       {"year": 2026, "month": 3, "date": 10, "hours": 3, "minutes": 5}, {"year": 2026, "month": 3, "date": 10, "hours": 3, "minutes": 10}, {"year": 2026, "month": 3, "date": 10, "hours": 3, "minutes": 15},
       {"year": 2026, "month": 3, "date": 10, "hours": 3, "minutes": 25}, {"year": 2026, "month": 3, "date": 10, "hours": 3, "minutes": 30}, {"year": 2026, "month": 3, "date": 10, "hours": 3, "minutes": 35},
       {"year": 2026, "month": 3, "date": 10, "hours": 3, "minutes": 45}, {"year": 2026, "month": 3, "date": 10, "hours": 3, "minutes": 50}, {"year": 2026, "month": 3, "date": 10, "hours": 3, "minutes": 55},
       {"year": 2026, "month": 3, "date": 10, "hours": 4, "minutes": 5}, {"year": 2026, "month": 3, "date": 10, "hours": 4, "minutes": 10}, {"year": 2026, "month": 3, "date": 10, "hours": 4, "minutes": 15}],
       "labels": false, "domain": false, "ticks": true, "tickColor": "#bbbbbb", "tickSize": 2, "grid": true, "gridColor": "#b8b8b8", "gridDash": [1, 1], "gridOpacity": 0.8, "title": null, "zindex": 1}},
   "x2": {"field": "t2"},
   "y": {"field": "lo0", "type": "quantitative", "scale": {"domain": [0, 2.8], "nice": false},
     "axis": {"orient": "left", "values": [0.1, 0.3, 0.5, 0.7, 0.9, 1.1, 1.3, 1.5, 1.7, 1.9, 2.1, 2.3, 2.5, 2.7], "labels": false, "domain": false, "ticks": true, "tickColor": "#bbbbbb", "tickSize": 2, "grid": true, "gridColor": "#b8b8b8", "gridDash": [1, 1], "gridOpacity": 0.8, "title": null, "zindex": 1}},
   "y2": {"field": "hi0"}
  }
 },
 {
  "data": {"name": "smoke"},
  "mark": {"type": "rect", "clip": true, "color": "#c6c6c6"},
  "encoding": {
   "x": {"field": "t", "type": "temporal",
     "axis": {"orient": "bottom", "values": [
       {"year": 2026, "month": 3, "date": 10, "hours": 1, "minutes": 40}, {"year": 2026, "month": 3, "date": 10, "hours": 2, "minutes": 0}, {"year": 2026, "month": 3, "date": 10, "hours": 2, "minutes": 20},
       {"year": 2026, "month": 3, "date": 10, "hours": 2, "minutes": 40}, {"year": 2026, "month": 3, "date": 10, "hours": 3, "minutes": 0}, {"year": 2026, "month": 3, "date": 10, "hours": 3, "minutes": 20},
       {"year": 2026, "month": 3, "date": 10, "hours": 3, "minutes": 40}, {"year": 2026, "month": 3, "date": 10, "hours": 4, "minutes": 0}, {"year": 2026, "month": 3, "date": 10, "hours": 4, "minutes": 20}],
       "format": "%H:%M", "labelFont": "DejaVu Sans Mono", "labelFontSize": 9.7, "labelColor": "#000", "labelPadding": 4, "domain": true, "domainColor": "#000", "ticks": true, "tickColor": "#e06666", "tickSize": 2, "grid": true, "gridColor": "#e06666", "gridDash": [1, 1], "gridOpacity": 0.7, "title": null, "zindex": 1}},
   "x2": {"field": "t2"},
   "y": {"field": "lo1", "type": "quantitative",
     "axis": {"orient": "left", "values": [0, 0.2, 0.4, 0.6, 0.8, 1.0, 1.2, 1.4, 1.6, 1.8, 2.0, 2.2, 2.4, 2.6],
       "labelExpr": "datum.value == 0 ? '0.0\u00a0\u00a0' : format(datum.value, '.1f') + '\u00a0m'",
       "labelFont": "DejaVu Sans Mono", "labelFontSize": 9.7, "labelColor": "#000", "labelPadding": 4,
       "domain": true, "domainColor": "#808080", "ticks": true, "tickColor": "#e06666", "tickSize": 2,
       "grid": true, "gridColor": "#e06666", "gridDash": [1, 1], "gridOpacity": 0.7,
       "title": "Seconds", "titleFont": "DejaVu Sans Mono", "titleFontSize": 11.7, "titleFontWeight": "normal", "titleColor": "#000",
       "titlePadding": 12, "zindex": 1}},
   "y2": {"field": "hi1"}
  }
 },
 {
  "data": {"name": "smoke"},
  "mark": {"type": "rect", "clip": true, "color": "#9c9c9c"},
  "encoding": {
   "x": {"field": "t", "type": "temporal", "axis": null},
   "x2": {"field": "t2"},
   "y": {"field": "lo2", "type": "quantitative",
     "axis": {"orient": "right", "labels": false, "ticks": false, "domain": false, "grid": false,
       "title": "RRDTOOL / TOBI OETIKER", "titleFont": "DejaVu Sans Mono", "titleFontSize": 7.5, "titleFontWeight": "normal", "titleColor": "#a8a8a8",
       "titleAngle": 90, "titlePadding": 16, "titleY": 48}},
   "y2": {"field": "hi2"}
  }
 },
 {
  "data": {"name": "smoke"},
  "mark": {"type": "rect", "clip": true, "color": "#606060"},
  "encoding": {
   "x": {"field": "t", "type": "temporal", "axis": null},
   "x2": {"field": "t2"},
   "y": {"field": "lo3", "type": "quantitative", "axis": null},
   "y2": {"field": "hi3"}
  }
 },
 {
  "data": {"name": "med"},
  "mark": {"type": "line", "clip": true, "interpolate": "step-after", "color": "#000", "strokeWidth": 1},
  "encoding": {
   "x": {"field": "t", "type": "temporal", "axis": null},
   "y": {"field": "m", "type": "quantitative", "axis": null}
  }
 },
 {
  "data": {"name": "med"},
  "mark": {"type": "tick", "clip": true, "orient": "horizontal", "size": 3.6, "thickness": 3, "opacity": 1, "xOffset": 1.67},
  "encoding": {
   "x": {"field": "t", "type": "temporal", "axis": null},
   "y": {"field": "m", "type": "quantitative", "axis": null},
   "color": {"field": "loss", "type": "nominal",
     "scale": {"domain": ["0", "1/20", "2/20", "3/20", "4/20", "10/20", "19/20"], "range": ["#26ff00", "#00b8ff", "#0059ff", "#5e00ff", "#7e00ff", "#dd00ff", "#ff0000"]},
     "legend": {"orient": "none", "legendX": 42, "legendY": 249, "direction": "horizontal", "title": null, "padding": 0,
       "labelFont": "DejaVu Sans Mono", "labelFontSize": 11.7, "labelColor": "#000", "labelOffset": 5, "columnPadding": 12,
       "symbolType": "square", "symbolSize": 64, "symbolStrokeColor": "#000", "symbolStrokeWidth": 1, "symbolOpacity": 1}}
  }
 }
]
}
